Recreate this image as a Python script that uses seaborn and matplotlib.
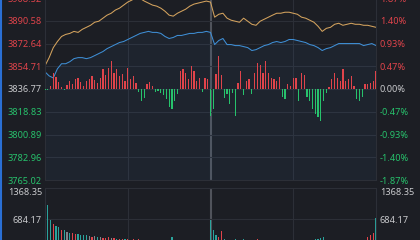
import matplotlib
matplotlib.use("Agg")
import matplotlib.pyplot as plt
import seaborn as sns

# ---------------- data ----------------
base_price = 3836.77
price_ticks = [3765.02, 3782.96, 3800.89, 3818.83, 3836.77, 3854.71, 3872.64, 3890.58, 3908.52]
price_labels = ["3765.02", "3782.96", "3800.89", "3818.83", "3836.77", "3854.71", "3872.64", "3890.58", "3908.52"]
pct_labels = ["-1.87%", "-1.40%", "-0.93%", "-0.47%", "0.00%", "0.47%", "0.93%", "1.40%", "1.87%"]
vol_ticks = [684.17, 1368.35]
vol_labels = ["684.17", "1368.35"]

line_minutes = list(range(0, 241, 3))
index_line = [
    3855.1, 3861.5, 3869.4, 3874.2, 3878.2, 3879.8, 3880.6, 3882.2, 3881.4, 3883.8,
    3885.4, 3887.0, 3889.4, 3890.2, 3892.6, 3895.0, 3896.5, 3899.0, 3900.5, 3902.9,
    3905.3, 3906.9, 3908.9, 3908.1, 3906.1, 3904.5, 3902.9, 3902.1, 3900.5, 3898.1,
    3895.0, 3894.2, 3896.5, 3898.1, 3899.7, 3902.1, 3903.7, 3904.5, 3905.3, 3906.1,
    3905.3, 3893.4, 3895.7, 3896.5, 3892.6, 3891.0, 3890.2, 3889.4, 3892.6, 3890.2,
    3887.8, 3887.0, 3890.2, 3891.8, 3893.4, 3895.0, 3896.5, 3896.5, 3897.3, 3897.3,
    3896.5, 3895.7, 3893.4, 3892.6, 3891.0, 3889.4, 3886.2, 3882.2, 3884.6, 3885.4,
    3887.8, 3888.6, 3887.0, 3887.8, 3888.6, 3887.8, 3887.8, 3887.0, 3887.0, 3886.2,
    3885.4,
]
avg_line = [
    3850.3, 3847.1, 3845.5, 3852.7, 3856.7, 3856.7, 3858.3, 3860.7, 3861.5, 3861.5,
    3860.7, 3861.5, 3863.1, 3864.7, 3866.3, 3868.6, 3870.2, 3871.8, 3873.4, 3874.2,
    3875.8, 3877.4, 3879.0, 3880.6, 3881.4, 3882.2, 3881.4, 3881.4, 3880.6, 3878.2,
    3876.6, 3877.4, 3879.0, 3879.0, 3879.8, 3880.6, 3880.6, 3881.4, 3881.4, 3882.2,
    3881.4, 3871.8, 3875.0, 3876.6, 3871.8, 3871.8, 3871.0, 3871.0, 3870.2, 3869.4,
    3867.1, 3867.8, 3869.4, 3871.0, 3871.8, 3873.4, 3874.2, 3873.4, 3874.2, 3875.8,
    3875.8, 3875.0, 3874.2, 3873.4, 3871.8, 3871.0, 3869.4, 3867.1, 3868.6, 3869.4,
    3871.0, 3872.6, 3872.6, 3872.6, 3872.6, 3872.6, 3872.6, 3871.0, 3871.8, 3872.6,
    3871.0,
]

bar_minutes = list(range(0, 241, 2))
breadth = [
    -1, -1, 3, 16, 12, 7, 2, -1, 4, 8,
    5, 10, 11, 7, 3, 8, 10, 13, 9, 6,
    11, 20, 14, 21, 28, 16, 20, 13, 15, 8,
    21, 10, 13, 6, -3, -12, -9, 5, 7, 3,
    -3, -2, -4, -6, -10, -18, -20, -12, -5, 18,
    20, 16, 10, 23, 18, 8, 11, -3, 11, 10,
    -27, -20, 15, 33, 14, -9, -5, -15, -4, -27,
    6, 18, -6, 8, 10, -5, 16, 26, 24, 16,
    28, 16, 11, 10, 8, 12, -8, -10, 5, 3,
    11, 11, -12, 16, 14, -8, -12, -20, -25, -28,
    -32, -12, -4, 2, 10, 16, 11, 8, 20, 8,
    10, 13, 3, -10, -12, -8, 5, 5, 6, 8,
    18,
]
volume = [
    1368.35, 990, 660, 575, 530, 505, 440, 440, 400, 375,
    375, 355, 350, 330, 330, 325, 310, 290, 305, 285,
    285, 265, 260, 280, 262, 265, 245, 240, 250, 235,
    245, 230, 240, 225, 235, 230, 220, 225, 215, 220,
    210, 205, 200, 210, 215, 230, 285, 225, 205, 215,
    230, 220, 210, 225, 215, 200, 205, 195, 200, 210,
    660, 440, 330, 285, 420, 240, 220, 230, 210, 245,
    215, 230, 235, 205, 210, 200, 215, 235, 225, 210,
    230, 205, 200, 195, 190, 200, 195, 205, 185, 180,
    195, 190, 200, 210, 205, 195, 210, 225, 240, 250,
    265, 285, 215, 190, 200, 215, 205, 195, 220, 195,
    200, 210, 190, 215, 225, 205, 210, 285, 330, 375,
    705,
]
# u = up minute (red), d = down minute (teal), f = flat (gray)
vol_dir = list(
    "ddduddudfd"
    "uuddddfufd"
    "fuuufuduud"
    "ufududdufu"
    "dddddddduu"
    "uufuudufuu"
    "ddduudddfd"
    "uuduuduuuu"
    "uufuuudduf"
    "uuduuddddd"
    "dddfuuuuuu"
    "uufddduuuu"
    "d"
)

# ---------------- style ----------------
BG = "#1c1e24"
GRID = "#2c2f37"
MID = "#50535b"
ORANGE = "#d4a35e"
BLUE = "#3f8fd6"
RED = "#e0444b"
GREEN = "#27c26c"
TEAL = "#2aa39c"
GRAY = "#80838b"
WHITE = "#c9cacd"

sns.set_theme(style="dark", rc={"axes.facecolor": BG, "figure.facecolor": BG})
plt.rcParams["font.family"] = ["Noto Sans", "DejaVu Sans"]
FS = 6.6

fig = plt.figure(figsize=(4.2, 2.4), dpi=100)
fig.patch.set_facecolor(BG)
L, R = 45 / 420, 376 / 420

# main price panel
ax = fig.add_axes([L, 60 / 240, R - L, 182 / 240])
ax.set_facecolor(BG)
ax.fill_between(line_minutes, avg_line, price_ticks[0], color=BLUE, alpha=0.06, lw=0)
sns.lineplot(x=line_minutes, y=index_line, ax=ax, color=ORANGE, lw=0.75)
sns.lineplot(x=line_minutes, y=avg_line, ax=ax, color=BLUE, lw=0.75)
ax.set_xlim(0, 240)
ax.set_ylim(price_ticks[0], price_ticks[-1])
ax.set_yticks(price_ticks)
ax.set_yticklabels(price_labels)
ax.set_xticks([])
ax.set_xlabel("")
ax.set_ylabel("")
ax.grid(axis="y", color=GRID, lw=0.8)
ax.grid(axis="x", visible=False)
for t in (60, 180):
    ax.axvline(t, color=GRID, lw=0.8, zorder=0.5)
ax.axvline(120, color=MID, lw=1.5, zorder=0.5)
ax.tick_params(axis="y", length=0, pad=2.2, labelsize=FS)
for lab, v in zip(ax.get_yticklabels(), price_ticks):
    lab.set_color(RED if v > base_price + 0.01 else (GREEN if v < base_price - 0.01 else WHITE))
for s in ax.spines.values():
    s.set_color(GRID)
    s.set_linewidth(0.8)

# breadth bars on hidden twin
axb = ax.twinx()
axb.set_ylim(-91, 91)
axb.bar(bar_minutes, breadth, width=0.9,
        color=[RED if v > 0 else GREEN for v in breadth], lw=0)
axb.set_yticks([])
axb.grid(False)
for s in axb.spines.values():
    s.set_visible(False)

# percent labels on right
axp = ax.twinx()
axp.set_ylim(price_ticks[0], price_ticks[-1])
axp.set_yticks(price_ticks)
axp.set_yticklabels(pct_labels)
axp.grid(False)
axp.tick_params(axis="y", length=0, pad=2.8, labelsize=FS)
for lab, v in zip(axp.get_yticklabels(), price_ticks):
    lab.set_color(RED if v > base_price + 0.01 else (GREEN if v < base_price - 0.01 else WHITE))
for s in axp.spines.values():
    s.set_visible(False)

# volume panel
axv = fig.add_axes([L, -10 / 240, R - L, 62 / 240])
axv.set_facecolor(BG)
cmap = {"u": RED, "d": TEAL, "f": GRAY}
axv.bar(bar_minutes, volume, width=0.9, color=[cmap[c] for c in vol_dir], lw=0)
axv.set_xlim(0, 240)
axv.set_ylim(0, vol_ticks[-1])
axv.set_yticks(vol_ticks)
axv.set_yticklabels(vol_labels)
axv.set_xticks([])
axv.grid(axis="y", color=GRID, lw=0.8)
axv.grid(axis="x", visible=False)
for t in (60, 180):
    axv.axvline(t, color=GRID, lw=0.8, zorder=0.5)
axv.axvline(120, color=MID, lw=1.5, zorder=0.5)
axv.tick_params(axis="y", length=0, pad=2.2, labelsize=FS, labelcolor=WHITE)
axv.get_yticklabels()[-1].set_va("top")
for s in axv.spines.values():
    s.set_color(GRID)
    s.set_linewidth(0.8)
axv2 = axv.twinx()
axv2.set_ylim(0, vol_ticks[-1])
axv2.set_yticks(vol_ticks)
axv2.set_yticklabels(vol_labels)
axv2.grid(False)
axv2.tick_params(axis="y", length=0, pad=2.8, labelsize=FS, labelcolor=WHITE)
axv2.get_yticklabels()[-1].set_va("top")
for s in axv2.spines.values():
    s.set_visible(False)

# selection border on the left edge
fig.add_artist(plt.Line2D([0.6 / 420, 0.6 / 420], [0, 1], color="#2a6fd4", lw=1.5))

fig.savefig("out.png", dpi=100, facecolor=BG)
